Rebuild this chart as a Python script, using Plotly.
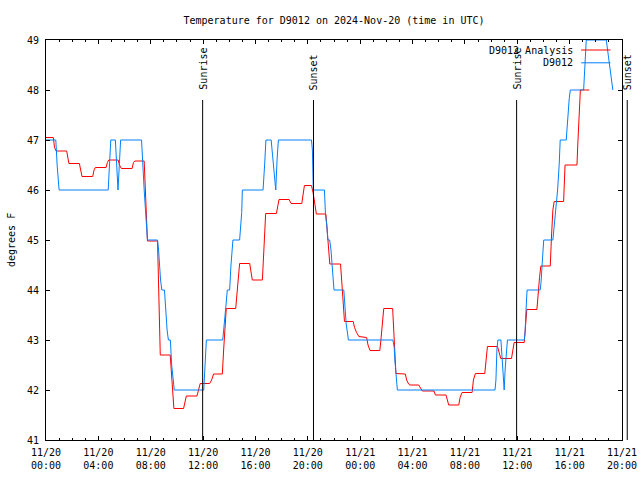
import pandas as pd
import plotly.graph_objects as go

# ---------------- data ----------------
start_time = "2024-11-20 00:00"
end_time = "2024-11-21 20:00"

# D9012 observations (hours since 2024-11-20 00:00 UTC, degrees F)
obs_hours = [0.00, 0.75, 0.85, 1.00, 4.75, 4.85, 4.95, 5.30, 5.50, 5.70,
             7.30, 7.50, 7.65, 7.75, 8.52, 8.60, 8.75, 8.85, 9.05, 9.15, 9.25, 9.35, 9.50, 9.60, 9.70, 9.80,
             12.05, 12.15, 12.25, 13.50, 13.60, 13.75, 13.85, 14.03, 14.13, 14.23, 14.28, 14.79, 14.85, 14.95, 15.00,
             16.58, 16.70, 16.80, 17.20, 17.35, 17.55, 17.65, 17.75,
             20.28, 20.35, 20.42, 21.27, 21.35, 21.45, 21.53, 21.67, 21.77, 21.87, 22.00,
             22.75, 22.82, 22.93, 23.05, 23.10, 26.50, 26.60, 26.65, 26.70, 26.75, 26.84,
             34.30, 34.37, 34.45, 34.52, 34.75, 34.82, 34.92, 35.00, 35.07, 35.15, 35.25,
             36.53, 36.60, 36.65, 36.75, 37.75, 37.82, 37.92, 38.02,
             38.72, 38.78, 38.87, 38.95, 39.08, 39.20, 39.28, 39.74, 39.84, 39.97, 40.05,
             41.07, 41.17, 41.27, 42.80, 42.90, 43.00, 43.15, 43.30]
obs_temps = [47.0, 47.0, 46.5, 46.0, 46.0, 46.5, 47.0, 47.0, 46.0, 47.0,
             47.0, 46.0, 45.3, 45.0, 45.0, 44.8, 44.2, 44.0, 44.0, 43.5, 43.2, 43.0, 43.0, 42.5, 42.2, 42.0,
             42.0, 42.5, 43.0, 43.0, 43.35, 43.7, 44.0, 44.0, 44.5, 44.85, 45.0, 45.0, 45.2, 45.55, 46.0,
             46.0, 46.5, 47.0, 47.0, 46.6, 46.0, 46.6, 47.0,
             47.0, 46.8, 46.0, 46.0, 45.5, 45.3, 45.0, 45.0, 44.8, 44.5, 44.0,
             44.0, 43.67, 43.33, 43.1, 43.0, 43.0, 42.85, 42.6, 42.4, 42.17, 42.0,
             42.0, 42.2, 42.83, 43.0, 43.0, 42.65, 42.17, 42.0, 42.4, 42.65, 43.0,
             43.0, 43.15, 43.5, 44.0, 44.0, 44.17, 44.6, 45.0,
             45.0, 45.17, 45.53, 45.6, 46.0, 46.5, 47.0, 47.0, 47.4, 47.83, 48.0,
             48.0, 48.5, 49.0, 49.0, 48.8, 48.5, 48.2, 48.0]

# D9012 Analysis
ana_hours = [0.00, 0.56, 0.65, 0.77, 1.58, 1.68, 1.75, 2.55, 2.65, 2.75, 3.57, 3.67, 3.77,
             4.59, 4.69, 4.79, 5.51, 5.61, 5.76, 6.58, 6.68, 6.78, 7.50, 7.60, 7.68, 7.75,
             8.52, 8.55, 8.62, 8.68, 8.73, 9.49, 9.55, 9.65, 9.72, 9.77, 10.51, 10.61, 10.72,
             11.53, 11.63, 11.78, 12.50, 12.65, 12.80, 13.47, 13.57, 13.67, 13.77,
             14.49, 14.59, 14.69, 14.79, 15.56, 15.66, 15.76, 16.53, 16.63, 16.73, 16.78,
             17.60, 17.70, 17.80, 18.57, 18.72, 19.54, 19.64, 19.74, 20.28, 20.40, 20.55, 20.65,
             21.38, 21.48, 21.58, 21.68, 22.50, 22.60, 22.70, 22.80, 23.47, 23.57, 23.72, 23.90,
             24.49, 24.60, 24.75, 25.50, 25.60, 25.70, 25.80, 26.48, 26.58, 26.68, 26.73,
             27.45, 27.55, 27.70, 27.80, 28.47, 28.62, 28.75, 29.64, 29.75, 30.56, 30.66, 30.76,
             31.53, 31.63, 31.78, 32.55, 32.65, 32.80, 33.52, 33.62, 33.72, 34.49, 34.59, 34.74,
             35.56, 35.66, 35.76, 36.53, 36.63, 36.73, 37.50, 37.60, 37.70, 37.80,
             38.52, 38.62, 38.72, 38.82, 39.54, 39.65, 40.56, 40.62, 40.70, 40.78, 40.82, 41.50]
ana_temps = [47.05, 47.05, 46.85, 46.78, 46.78, 46.57, 46.53, 46.53, 46.4, 46.27, 46.27, 46.4, 46.45,
             46.45, 46.55, 46.6, 46.6, 46.5, 46.43, 46.43, 46.55, 46.58, 46.58, 46.0, 45.5, 44.98,
             44.98, 44.6, 43.87, 43.1, 42.7, 42.7, 42.5, 42.17, 41.8, 41.63, 41.63, 41.78, 41.88,
             41.88, 42.0, 42.13, 42.13, 42.2, 42.32, 42.32, 42.8, 43.33, 43.63,
             43.63, 44.0, 44.35, 44.53, 44.53, 44.35, 44.2, 44.2, 44.8, 45.25, 45.53,
             45.53, 45.65, 45.81, 45.81, 45.73, 45.73, 45.95, 46.09, 46.09, 45.95, 45.7, 45.52,
             45.52, 45.2, 44.85, 44.52, 44.52, 44.2, 43.75, 43.37, 43.37, 43.25, 43.15, 43.07,
             43.05, 42.9, 42.79, 42.79, 43.05, 43.35, 43.63, 43.63, 43.1, 42.6, 42.33,
             42.32, 42.2, 42.12, 42.1, 42.1, 42.02, 41.98, 41.98, 41.9, 41.9, 41.8, 41.7,
             41.7, 41.85, 41.95, 41.95, 42.2, 42.33, 42.33, 42.6, 42.87, 42.87, 42.75, 42.63,
             42.63, 42.8, 42.95, 42.95, 43.3, 43.61, 43.61, 44.0, 44.25, 44.48,
             44.48, 45.1, 45.6, 45.77, 45.77, 46.5, 46.5, 46.9, 47.35, 47.75, 48.0, 48.0]

sun_labels = ["Sunrise", "Sunset", "Sunrise", "Sunset"]
sun_times = ["2024-11-20 11:58", "2024-11-20 20:26", "2024-11-21 11:57", "2024-11-21 20:24"]

series_names = ["D9012 Analysis", "D9012"]
series_colors = ["#ff0000", "#0080ff"]

# ---------------- figure ----------------
t0 = pd.Timestamp(start_time)
t1 = pd.Timestamp(end_time)
obs_x = t0 + pd.to_timedelta(obs_hours, unit="h")
ana_x = t0 + pd.to_timedelta(ana_hours, unit="h")

FONT = "DejaVu Sans Mono"
W, H = 640, 480
ML, MR, MT, MB = 46, 18, 40, 40
PW = W - ML - MR

fig = go.Figure()
fig.add_trace(go.Scatter(x=ana_x, y=ana_temps, mode="lines", name=series_names[0],
                         line=dict(color=series_colors[0], width=1), showlegend=False))
fig.add_trace(go.Scatter(x=obs_x, y=obs_temps, mode="lines", name=series_names[1],
                         line=dict(color=series_colors[1], width=1), showlegend=False))

shapes = []
annotations = []
span = (t1 - t0)
for lab, ts in zip(sun_labels, sun_times):
    frac = (pd.Timestamp(ts) - t0) / span
    shapes.append(dict(type="line", xref="paper", yref="paper", x0=frac, x1=frac, y0=0, y1=0.85,
                       line=dict(color="black", width=1)))
    annotations.append(dict(text=lab, textangle=-90, xref="paper", yref="paper", x=frac, y=0.87,
                            xanchor="center", yanchor="bottom", showarrow=False,
                            font=dict(family=FONT, size=10, color="black")))

# legend (gnuplot style: text then sample line)
leg_y = [0.975, 0.943]
for name, col, ly in zip(series_names, series_colors, leg_y):
    annotations.append(dict(text=name, xref="paper", yref="paper", x=0.918, y=ly,
                            xanchor="right", yanchor="middle", showarrow=False,
                            font=dict(family=FONT, size=10, color="black")))
    shapes.append(dict(type="line", xref="paper", yref="paper", x0=0.929, x1=0.98, y0=ly, y1=ly,
                       line=dict(color=col, width=1)))

# y-axis label
annotations.append(dict(text="degrees F", textangle=-90, xref="paper", yref="paper",
                        x=(11 - ML) / PW, y=0.5, xanchor="center", yanchor="middle",
                        showarrow=False, font=dict(family=FONT, size=10, color="black")))

fig.update_layout(
    width=W, height=H,
    margin=dict(l=ML, r=MR, t=MT, b=MB, autoexpand=False),
    paper_bgcolor="white", plot_bgcolor="white",
    font=dict(family=FONT, size=10, color="black"),
    title=dict(text="Temperature for D9012 on 2024-Nov-20 (time in UTC)",
               x=0.5, xref="paper", y=1 - 20 / H, yref="container",
               xanchor="center", yanchor="middle",
               font=dict(family=FONT, size=10, color="black")),
    shapes=shapes, annotations=annotations,
    hovermode=False,
)
fig.update_xaxes(type="date", range=[t0, t1], tick0=t0, dtick=4 * 3600000,
                 tickformat="%m/%d<br>%H:%M", ticks="inside", ticklen=4, tickcolor="black",
                 minor=dict(dtick=3600000, ticks="inside", ticklen=2, tickcolor="black"),
                 showline=True, linecolor="black", linewidth=1, mirror="allticks",
                 showgrid=False, zeroline=False, automargin=False, ticklabelstandoff=3,
                 tickfont=dict(family=FONT, size=10))
fig.update_yaxes(range=[41, 49], dtick=1, ticks="inside", ticklen=4, tickcolor="black",
                 showline=True, linecolor="black", linewidth=1, mirror="allticks",
                 showgrid=False, zeroline=False, automargin=False, ticklabelstandoff=4,
                 tickfont=dict(family=FONT, size=10))

# remove the browser's default 8px page margin so the figure sits at the window origin
fig.write_html("out.html", config={"displayModeBar": False, "staticPlot": True},
               post_script="document.body.style.margin='0';document.body.style.overflow='hidden';")
